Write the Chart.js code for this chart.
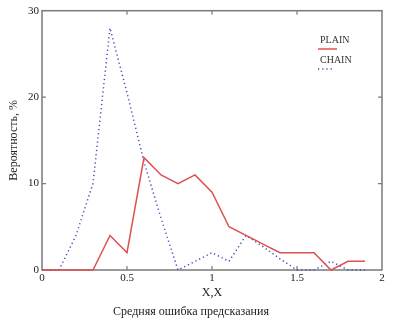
<!DOCTYPE html>
<html>
<head>
<meta charset="utf-8">
<script src="https://cdn.jsdelivr.net/npm/chart.js@4.4.0/dist/chart.umd.min.js"></script>
<style>
    html, body { margin: 0; padding: 0; background: #fff; }
    #contenedor { width: 398px; height: 325px; }
</style>
</head>
<body>
<div id="contenedor"><canvas id="grafica"></canvas></div>
<script>
// Datos
const valoresX = [0, 0.1, 0.2, 0.3, 0.4, 0.5, 0.6, 0.7, 0.8, 0.9, 1.0, 1.1, 1.2, 1.3, 1.4, 1.5, 1.6, 1.7, 1.8, 1.9];
const valoresPlain = [0, 0, 0, 0, 4, 2, 13, 11, 10, 11, 9, 5, 4, 3, 2, 2, 2, 0, 1, 1];
const valoresChain = [0, 0, 4, 10, 28, 20.5, 12.5, 6, 0, 1, 2, 1, 4, 2.7, 1.3, 0, 0, 1, 0, 0];
const ticksX = [0, 0.5, 1, 1.5, 2];
const ticksY = [0, 10, 20, 30];

const fuente = "'Liberation Serif', 'Times New Roman', serif";
const colorEje = '#7a7a7a';

function puntos(valores) {
    return valoresX.map((x, i) => ({ x: x, y: valores[i] }));
}

// Caja del gráfico con marcas hacia adentro (estilo Mathcad)
const cajaPlugin = {
    id: 'caja',
    beforeDatasetsDraw(chart) {
        const { ctx, chartArea: a, scales } = chart;
        ctx.save();
        ctx.strokeStyle = colorEje;
        ctx.lineWidth = 1.5;
        ctx.strokeRect(a.left, a.top, a.right - a.left, a.bottom - a.top);
        ctx.lineWidth = 1.2;
        ctx.beginPath();
        ticksX.slice(1, -1).forEach(v => {
            const px = scales.x.getPixelForValue(v);
            ctx.moveTo(px, a.bottom); ctx.lineTo(px, a.bottom - 4);
            ctx.moveTo(px, a.top); ctx.lineTo(px, a.top + 4);
        });
        ticksY.slice(1, -1).forEach(v => {
            const py = scales.y.getPixelForValue(v);
            ctx.moveTo(a.left, py); ctx.lineTo(a.left + 4, py);
            ctx.moveTo(a.right, py); ctx.lineTo(a.right - 4, py);
        });
        ctx.stroke();
        ctx.restore();
    }
};

// Leyenda: nombre arriba y muestra de línea abajo
const leyendaPlugin = {
    id: 'leyenda',
    afterDatasetsDraw(chart) {
        const { ctx } = chart;
        const x0 = 320;
        let y0 = 40;
        ctx.save();
        chart.data.datasets.forEach(ds => {
            ctx.font = '10px ' + fuente;
            ctx.fillStyle = '#333';
            ctx.textAlign = 'left';
            ctx.textBaseline = 'middle';
            ctx.fillText(ds.label, x0, y0);
            ctx.strokeStyle = ds.borderColor;
            ctx.lineWidth = ds.borderWidth;
            ctx.setLineDash(ds.borderDash || []);
            ctx.beginPath();
            ctx.moveTo(x0 - 2, y0 + 9);
            ctx.lineTo(x0 + (ds.borderDash ? 14 : 17), y0 + 9);
            ctx.stroke();
            y0 += 20;
        });
        ctx.restore();
    }
};

const ctx = document.getElementById('grafica').getContext('2d');
new Chart(ctx, {
    type: 'line',
    data: {
        datasets: [{
            label: 'PLAIN',
            data: puntos(valoresPlain),
            borderColor: 'rgb(222, 80, 80)',
            borderWidth: 1.5,
            pointRadius: 0,
            tension: 0,
            fill: false
        }, {
            label: 'CHAIN',
            data: puntos(valoresChain),
            borderColor: 'rgb(70, 70, 190)',
            borderWidth: 1.5,
            borderDash: [1.2, 3],
            pointRadius: 0,
            tension: 0,
            fill: false
        }]
    },
    options: {
        responsive: true,
        maintainAspectRatio: false,
        animation: false,
        clip: false,
        layout: {
            padding: { left: 0, right: 16, top: 10.7, bottom: 0 }
        },
        scales: {
            x: {
                type: 'linear',
                min: 0,
                max: 2,
                grid: { display: false, drawTicks: false },
                border: { display: false },
                afterBuildTicks: function (scale) {
                    scale.ticks = ticksX.map(v => ({ value: v }));
                },
                afterFit: function (scale) {
                    scale.height = 30.6;
                },
                ticks: {
                    color: '#222',
                    padding: 2,
                    maxRotation: 0,
                    font: { family: fuente, size: 11 },
                    callback: v => String(v)
                },
                title: {
                    display: true,
                    text: 'X,X',
                    color: '#222',
                    padding: { top: 4, bottom: 1 },
                    font: { family: fuente, size: 12 }
                }
            },
            y: {
                min: 0,
                max: 30,
                grid: { display: false, drawTicks: false },
                border: { display: false },
                afterBuildTicks: function (scale) {
                    scale.ticks = ticksY.map(v => ({ value: v }));
                },
                afterFit: function (scale) {
                    scale.width = 42;
                },
                ticks: {
                    color: '#222',
                    padding: 3,
                    font: { family: fuente, size: 11 }
                },
                title: {
                    display: true,
                    text: 'Вероятность, %',
                    color: '#222',
                    padding: { top: 7, bottom: 0 },
                    font: { family: fuente, size: 12 }
                }
            }
        },
        plugins: {
            legend: { display: false },
            tooltip: { enabled: false },
            title: {
                display: true,
                position: 'bottom',
                text: 'Средняя ошибка предсказания',
                color: '#222',
                padding: { top: 4, bottom: 6 },
                font: { family: fuente, size: 12, weight: 'normal' }
            }
        }
    },
    plugins: [cajaPlugin, leyendaPlugin]
});
</script>
</body>
</html>
